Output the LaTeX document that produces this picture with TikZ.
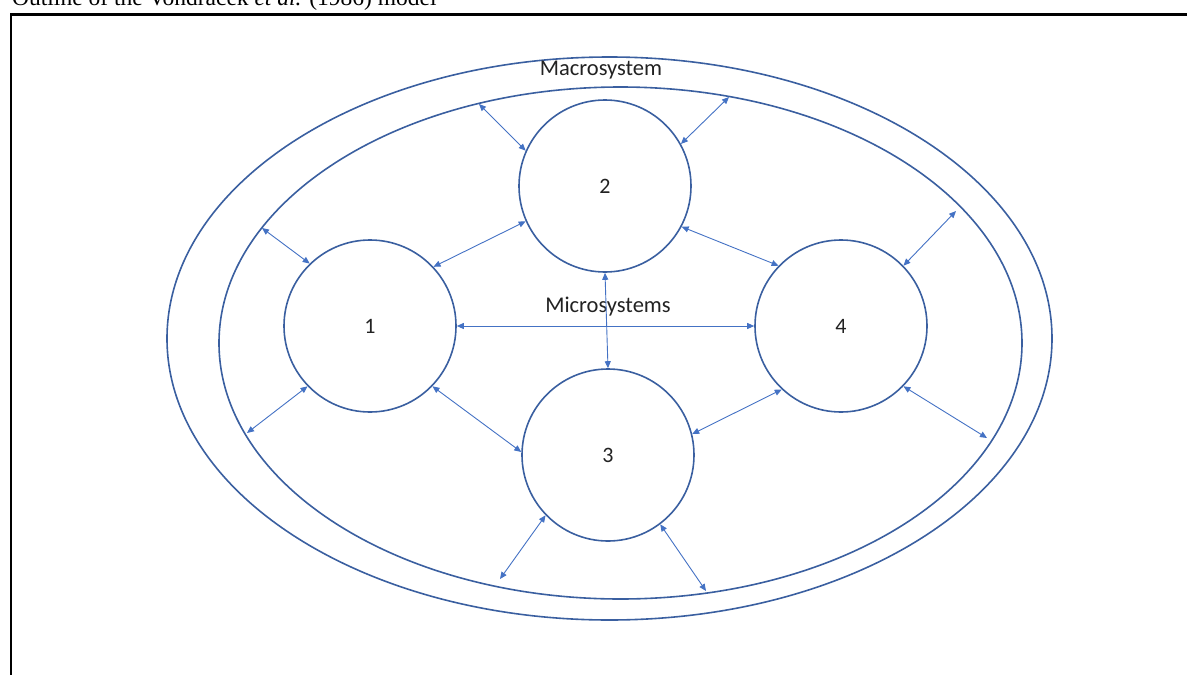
\documentclass[tikz,border=0pt]{standalone}
\usepackage{fontspec}
\newfontfamily\calib{Carlito}
\newfontfamily\timesf{Liberation Serif}
\usetikzlibrary{arrows.meta}
\definecolor{ringblue}{HTML}{3A5FA0}
\definecolor{arrowblue}{HTML}{4472C4}
\definecolor{txtgray}{HTML}{222222}
\tikzset{
  sys/.style={circle, draw=ringblue, line width=1.6pt, minimum size=172pt, inner sep=0pt,
              font=\calib\fontsize{22}{26}\selectfont, text=txtgray},
  ring/.style={draw=ringblue, line width=1.6pt},
  link/.style={draw=arrowblue, line width=0.9pt,
               {Triangle[length=7pt,width=6pt]}-{Triangle[length=7pt,width=6pt]}},
  lbl/.style={font=\calib\fontsize{22.5}{26}\selectfont, text=txtgray, inner sep=0pt}
}
\begin{document}
\begin{tikzpicture}[x=1pt,y=-1pt]
\useasboundingbox (0,0) rectangle (1187,675);
\clip (0,0) rectangle (1187,675);
% caption (cut off at top, as in the reference)
\node[anchor=base west, inner sep=0pt, font=\timesf\fontsize{23.5}{26}\selectfont] (cap) at (12,5)
  {Outline of the Vondracek \textit{et al.} (1986) model};
% frame
\draw[line width=2.7pt] (11,690) -- (11,14.5) -- (1200,14.5);
% ellipses
\draw[ring] (609.5,338.5) ellipse [x radius=442.5, y radius=281.5];
\draw[ring] (620.5,343) ellipse [x radius=401.5, y radius=256];
\node[lbl] (macro) at (601,70) {Macrosystem};
% systems
\node[sys] (c1) at (370,326) {1};
\node[sys] (c2) at (605,186) {2};
\node[sys] (c3) at (608,455) {3};
\node[sys] (c4) at (841,326) {4};
\node[lbl] (micro) at (608,307) {Microsystems};
% ellipse anchor points
\coordinate (e1) at (262,228);
\coordinate (e2) at (247,433);
\coordinate (e3) at (479,104);
\coordinate (e4) at (729,97);
\coordinate (e5) at (956,211);
\coordinate (e6) at (987,438);
\coordinate (e7) at (500,579);
\coordinate (e8) at (706,591);
% links between systems
\draw[link] (c1.east) -- (c4.west);
\draw[link] (c2.south) -- (c3.north);
\draw[link] (c1.43) -- (c2.204);
\draw[link] (c2.332) -- (c4.136);
\draw[link] (c1.316) -- (c3.178);
\draw[link] (c3.14) -- (c4.227);
% links to macrosystem
\draw[link] (c1.134) -- (e1);
\draw[link] (c1.224) -- (e2);
\draw[link] (c2.156) -- (e3);
\draw[link] (c2.29) -- (e4);
\draw[link] (c4.44) -- (e5);
\draw[link] (c4.316) -- (e6);
\draw[link] (c3.224) -- (e7);
\draw[link] (c3.307) -- (e8);
\end{tikzpicture}
\end{document}
